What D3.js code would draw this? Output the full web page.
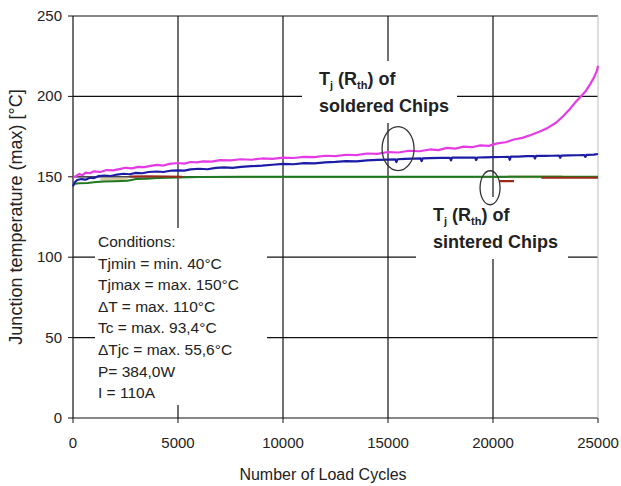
<!DOCTYPE html>
<html>
<head>
<meta charset="utf-8">
<script src="https://cdn.jsdelivr.net/npm/d3@7/dist/d3.min.js"></script>
<style>
  body { margin: 0; background: #fff; }
  text { font-family: Arial, "Liberation Sans", sans-serif; fill: #222; }
</style>
</head>
<body>
<div id="chart"></div>
<script>
// axis ticks
var xTicks = [0, 5000, 10000, 15000, 20000, 25000];
var yTicks = [0, 50, 100, 150, 200, 250];

// soldered chips ([cycles, Tj max])
var solderedMagenta = [[0,149.5],[150,150.5],[300,151.8],[450,151],[600,152.6],[800,152.2],[1000,153.4],[1300,153],[1600,154.2],[1900,154],[2200,154.8],[2500,155.6],[2800,155.2],[3100,156.2],[3400,156],[3700,156.8],[4000,157.4],[4300,157],[4600,158],[5000,158.6],[5300,158.2],[5600,159.2],[5900,159],[6200,159.6],[6600,159.4],[7000,160.4],[7500,160.2],[8000,160.9],[8500,160.6],[9000,161.4],[9500,161.2],[10000,161.9],[10500,161.7],[11000,162.4],[11500,162.2],[12000,163.1],[12500,162.9],[13000,163.7],[13500,163.5],[14000,164.5],[14500,164.3],[15000,165.4],[15500,165.1],[16000,166.2],[16500,165.9],[17000,167],[17400,166.6],[17800,168],[18200,167.5],[18600,168.8],[19000,168.4],[19400,169.5],[19800,169.2],[20200,170.8],[20600,171.5],[21000,173.2],[21400,174.2],[21800,176],[22200,178],[22600,180.4],[23000,183.6],[23350,187.8],[23650,192],[23900,196],[24150,199.5],[24400,203],[24620,207.5],[24800,211.5],[24950,216],[25000,219]];

var solderedBlue = [[0,144],[80,146.5],[200,148],[400,148.6],[600,148.2],[800,149.4],[1000,149.2],[1200,150.4],[1500,150.8],[1800,150.5],[2100,151.4],[2400,151.9],[2700,151.6],[3000,152.4],[3300,152.2],[3600,153],[4000,153.3],[4300,153],[4700,153.9],[5000,154],[5300,153.8],[5600,154.6],[6000,155],[6400,154.7],[6800,155.6],[7200,155.9],[7600,155.6],[8000,156.2],[8500,156.6],[9000,156.9],[9500,157.5],[10000,158],[10500,157.8],[11000,158.5],[11500,158.4],[12000,159],[12500,159.3],[13000,159.8],[13500,159.6],[14000,160.2],[14500,160.5],[15000,160.7],[15350,160.8],[15400,159.2],[15450,160.9],[15800,161.1],[16200,161.3],[16550,161.4],[16600,159.8],[16650,161.5],[17000,161.6],[17500,161.8],[17950,161.8],[18000,160.2],[18050,161.9],[18400,162],[18800,161.9],[19150,162],[19200,160.4],[19250,162],[19600,162.1],[20000,162.2],[20400,162.3],[20750,162.4],[20800,160.6],[20850,162.5],[21200,162.6],[21600,162.9],[21950,162.9],[22000,161.4],[22050,163],[22400,163],[22800,163.1],[23150,163.2],[23200,161.8],[23250,163.2],[23600,163.3],[24000,163.4],[24350,163.5],[24400,162.4],[24450,163.6],[24800,163.8],[25000,164.2]];

// sintered chips
var sinteredGreen = [[0,145.5],[300,146],[700,146.2],[1100,146.8],[1500,147],[2000,147.2],[2600,147.6],[3000,148.6],[3500,148.8],[4000,149.2],[5000,149.5],[6000,149.8],[8000,150],[12000,150],[16000,150],[20000,150],[25000,150]];
var sinteredBrown = [[2700,150.2],[3500,150.3],[4500,150.2],[5200,150],[5300,null],[20300,147.3],[21000,147.3],[21100,null],[22300,149.4],[25000,149.4]];
var sinteredTan = [[1300,148.4],[2600,148.4],[2700,null],[20700,150.1],[23300,150.1]];

var conditions = ["Conditions:", "Tjmin = min. 40°C", "Tjmax = max. 150°C", "\u0394T = max. 110°C",
                  "Tc = max. 93,4°C", "\u0394Tjc = max. 55,6°C", "P= 384,0W", "I = 110A"];

var W = 621, H = 486;
var margin = {left: 73, top: 16, right: 23, bottom: 68};
var w = W - margin.left - margin.right, h = H - margin.top - margin.bottom;

var svg = d3.select("#chart").append("svg").attr("width", W).attr("height", H);
var g = svg.append("g").attr("transform", "translate(" + margin.left + "," + margin.top + ")");

var x = d3.scaleLinear().domain([0, 25000]).range([0, w]);
var y = d3.scaleLinear().domain([0, 250]).range([h, 0]);

// grid
g.selectAll(".hgrid").data(yTicks).enter().append("line")
    .attr("x1", 0).attr("x2", w)
    .attr("y1", function(d){ return y(d); }).attr("y2", function(d){ return y(d); })
    .style("stroke", "#111").style("stroke-width", 1.2);
g.selectAll(".vgrid").data(xTicks).enter().append("line")
    .attr("x1", function(d){ return x(d); }).attr("x2", function(d){ return x(d); })
    .attr("y1", 0).attr("y2", h)
    .style("stroke", function(d){ return d === 25000 ? "#c8c8c8" : "#111"; })
    .style("stroke-width", 1.2);

// tick marks + labels
g.selectAll(".ytick").data(yTicks).enter().append("line")
    .attr("x1", -5).attr("x2", 0)
    .attr("y1", function(d){ return y(d); }).attr("y2", function(d){ return y(d); })
    .style("stroke", "#111");
g.selectAll(".xtick").data(xTicks).enter().append("line")
    .attr("x1", function(d){ return x(d); }).attr("x2", function(d){ return x(d); })
    .attr("y1", h).attr("y2", h + 5)
    .style("stroke", "#111");
g.selectAll(".ylab").data(yTicks).enter().append("text")
    .attr("x", -11).attr("y", function(d){ return y(d) + 5; })
    .attr("text-anchor", "end").style("font-size", "15px")
    .text(function(d){ return d; });
g.selectAll(".xlab").data(xTicks).enter().append("text")
    .attr("x", function(d){ return x(d); }).attr("y", h + 30)
    .attr("text-anchor", "middle").style("font-size", "15px")
    .text(function(d){ return d; });

svg.append("text").attr("x", 323).attr("y", 480)
    .attr("text-anchor", "middle").style("font-size", "16px")
    .text("Number of Load Cycles");
svg.append("text")
    .attr("transform", "translate(22," + (margin.top + h / 2) + ") rotate(-90)")
    .attr("text-anchor", "middle").style("font-size", "18px")
    .text("Junction temperature (max) [°C]");

// series
var line = d3.line()
    .defined(function(d){ return d[1] !== null; })
    .x(function(d){ return x(d[0]); })
    .y(function(d){ return y(d[1]); });

var series = [
    {data: sinteredTan, color: "#d9c9a3", width: 3},
    {data: sinteredGreen, color: "#1f7a1f", width: 2},
    {data: sinteredBrown, color: "#9a2a1a", width: 2.2},
    {data: solderedMagenta, color: "#e53be5", width: 2.2},
    {data: solderedBlue, color: "#1c1ca6", width: 2.2}
];
g.selectAll(".series").data(series).enter().append("path")
    .attr("d", function(d){ return line(d.data); })
    .style("fill", "none")
    .style("stroke", function(d){ return d.color; })
    .style("stroke-width", function(d){ return d.width; })
    .style("stroke-linejoin", "round");

// conditions box
g.append("rect").attr("x", 22).attr("y", 212).attr("width", 172).attr("height", 177)
    .style("fill", "#fff");
g.selectAll(".cond").data(conditions).enter().append("text")
    .attr("x", 25).attr("y", function(d, i){ return 231 + i * 21.6; })
    .style("font-size", "15.5px")
    .text(function(d){ return d; });

// annotation labels
function label(px, py, bw, second) {
    g.append("rect").attr("x", px - 17).attr("y", py - 24).attr("width", bw).attr("height", 62)
        .style("fill", "#fff");
    var t = g.append("text").attr("x", px).attr("y", py)
        .style("font-size", "18px").style("font-weight", "bold");
    t.append("tspan").text("T");
    t.append("tspan").attr("dy", 4).style("font-size", "11px").text("j");
    t.append("tspan").attr("dy", -4).text(" (R");
    t.append("tspan").attr("dy", 4).style("font-size", "11px").text("th");
    t.append("tspan").attr("dy", -4).text(") of");
    g.append("text").attr("x", px).attr("y", py + 27)
        .style("font-size", "18px").style("font-weight", "bold")
        .text(second);
}
label(246, 69, 155, "soldered Chips");
label(360, 205, 152, "sintered Chips");

// ellipses
g.append("ellipse").attr("cx", x(15480)).attr("cy", y(167.5)).attr("rx", 16).attr("ry", 22)
    .style("fill", "none").style("stroke", "#333").style("stroke-width", 1.3);
g.append("ellipse").attr("cx", x(19860)).attr("cy", y(143.2)).attr("rx", 10).attr("ry", 17)
    .style("fill", "none").style("stroke", "#333").style("stroke-width", 1.3);
</script>
</body>
</html>
